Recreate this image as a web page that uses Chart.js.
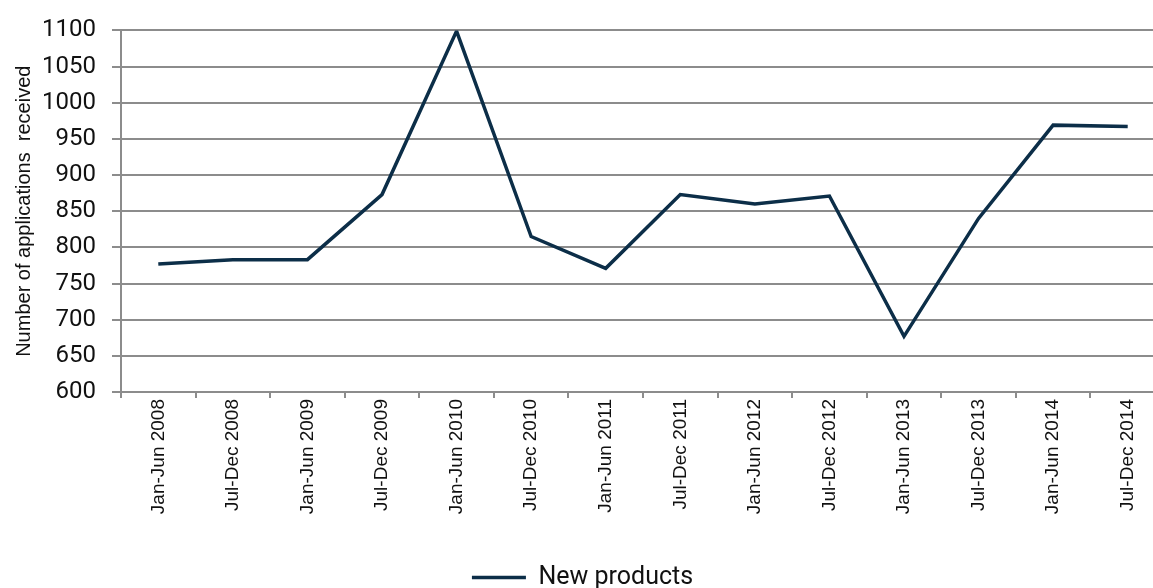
<!DOCTYPE html>
<html>
<head>
<meta charset="utf-8">
<script src="https://cdn.jsdelivr.net/npm/chart.js@4"></script>
<style>
  html, body { margin: 0; padding: 0; background: #fff; overflow: hidden; }
  #wrap { width: 1165px; height: 588px; }
</style>
</head>
<body>
<div id="wrap"><canvas id="chart"></canvas></div>
<script>
// half-year periods and applications received
const periods = [
  "Jan-Jun 2008", "Jul-Dec 2008", "Jan-Jun 2009", "Jul-Dec 2009",
  "Jan-Jun 2010", "Jul-Dec 2010", "Jan-Jun 2011", "Jul-Dec 2011",
  "Jan-Jun 2012", "Jul-Dec 2012", "Jan-Jun 2013", "Jul-Dec 2013",
  "Jan-Jun 2014", "Jul-Dec 2014"
];
const newProducts = [777, 783, 783, 873, 1099, 815, 771, 873, 860, 871, 677, 840, 969, 967];
const yMin = 600, yMax = 1100, yStep = 50;

const lineColor = "#0c2e48";
const gridColor = "#8c8c8c";

let ctx = document.getElementById("chart").getContext("2d");

let data = {
  labels: periods,
  datasets: [{
    label: "New products",
    data: newProducts,
    borderColor: lineColor,
    backgroundColor: lineColor,
    borderWidth: 3.5,
    pointRadius: 0,
    tension: 0,
    fill: false
  }]
};

let options = {
  responsive: true,
  maintainAspectRatio: false,
  animation: false,
  layout: { padding: { top: 29, left: 0, right: 0, bottom: -12 } },
  plugins: {
    tooltip: { enabled: false },
    legend: {
      position: "bottom",
      labels: {
        usePointStyle: true,
        pointStyle: "line",
        pointStyleWidth: 54,
        boxHeight: 3,
        color: "#111",
        padding: 12,
        font: { family: "Roboto, 'Liberation Sans', sans-serif", size: 25 }
      }
    }
  },
  scales: {
    x: {
      offset: true,
      grid: {
        offset: true,
        drawOnChartArea: false,
        drawTicks: true,
        tickLength: 6,
        color: gridColor,
        lineWidth: 2
      },
      border: { color: gridColor, width: 2 },
      ticks: {
        maxRotation: 90,
        minRotation: 90,
        autoSkip: false,
        padding: 1,
        color: "#111",
        font: { family: "'Liberation Sans', Arial, sans-serif", size: 19 }
      },
      afterFit: (scale) => { scale.height = 161; }
    },
    y: {
      min: yMin,
      max: yMax,
      ticks: {
        stepSize: yStep,
        padding: 16,
        color: "#111",
        font: { family: "Roboto, 'Liberation Sans', sans-serif", size: 24 },
        callback: (v) => String(v)
      },
      grid: {
        color: gridColor,
        lineWidth: 2,
        tickLength: 9
      },
      border: { color: gridColor, width: 2 },
      title: {
        display: true,
        text: "Number of applications  received",
        color: "#111",
        padding: { top: 12, bottom: 0 },
        font: { family: "'Liberation Sans', Arial, sans-serif", size: 20 }
      },
      afterFit: (scale) => { scale.width = 121; }
    }
  }
};

new Chart(ctx, { type: "line", data: data, options: options });
</script>
</body>
</html>
